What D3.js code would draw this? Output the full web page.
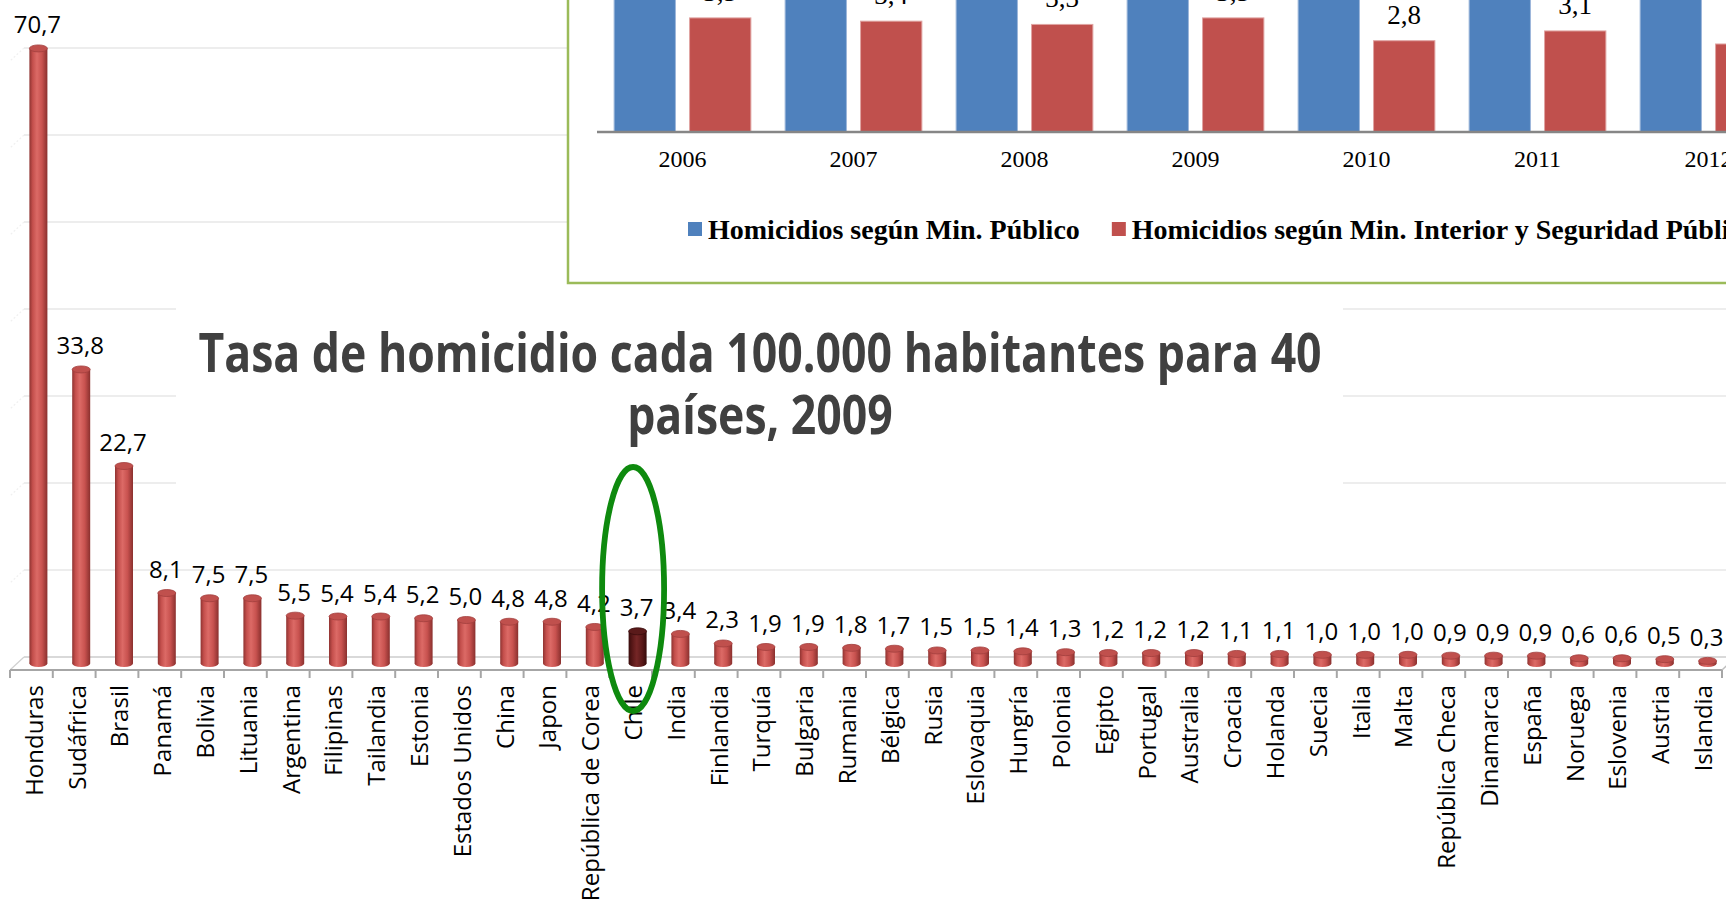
<!DOCTYPE html>
<html><head><meta charset="utf-8">
<script src="https://cdn.jsdelivr.net/npm/d3@7"></script>
<style>body{margin:0;background:#fff;overflow:hidden} svg{display:block}</style>
</head><body><svg id="c" width="1726" height="905"></svg>
<script>
// ---------- data: main chart ----------
const countries = ["Honduras","Sudáfrica","Brasil","Panamá","Bolivia","Lituania","Argentina","Filipinas","Tailandia","Estonia","Estados Unidos","China","Japon","República de Corea","Chile","India","Finlandia","Turquía","Bulgaria","Rumania","Bélgica","Rusia","Eslovaquia","Hungría","Polonia","Egipto","Portugal","Australia","Croacia","Holanda","Suecia","Italia","Malta","República Checa","Dinamarca","España","Noruega","Eslovenia","Austria","Islandia"];
const rates = [70.7,33.8,22.7,8.1,7.5,7.5,5.5,5.4,5.4,5.2,5.0,4.8,4.8,4.2,3.7,3.4,2.3,1.9,1.9,1.8,1.7,1.5,1.5,1.4,1.3,1.2,1.2,1.2,1.1,1.1,1.0,1.0,1.0,0.9,0.9,0.9,0.6,0.6,0.5,0.3];
const highlight = "Chile";
const gridTicks = [0,10,20,30,40,50,60,70];
const titleLines = ["Tasa de homicidio cada 100.000 habitantes para 40","países, 2009"];

// ---------- data: inset chart ----------
const years = ["2006","2007","2008","2009","2010","2011","2012"];
const seriesNames = ["Homicidios según Min. Público","Homicidios según Min. Interior y Seguridad Pública"];
const publico = [5.6,5.8,5.5,5.7,5.6,5.8,5.5];
const interior = [3.5,3.4,3.3,3.5,2.8,3.1,2.7];

const fmt = d3.formatLocale({decimal:",",thousands:".",grouping:[3],currency:["",""]}).format(".1f");
const svg = d3.select("#c");
svg.append("rect").attr("width",1726).attr("height",905).attr("fill","#fff");

const defs = svg.append("defs");
function cyl(id, stops){
  const g = defs.append("linearGradient").attr("id",id).attr("x1","0%").attr("x2","100%").attr("y1","0%").attr("y2","0%");
  stops.forEach(s=>g.append("stop").attr("offset",s[0]).attr("stop-color",s[1]));
}
cyl("cylRed",[["0%","#8f3331"],["18%","#c44f4c"],["42%","#dc6a66"],["70%","#c8524f"],["100%","#8a302e"]]);
cyl("cylDark",[["0%","#3a0c0c"],["25%","#5e1a1a"],["45%","#752626"],["75%","#5a1818"],["100%","#360a0a"]]);

// ---------- main chart scales ----------
const x = d3.scaleBand().domain(countries).range([10, 1722]).padding(0);
const y = d3.scaleLinear().domain([0,70]).range([657,48]);
const depthX = 14, depthY = 13;      // 3D floor depth
const barW = 18;

const grid = svg.append("g");
gridTicks.forEach(t=>{
  const yy = y(t);
  grid.append("line").attr("x1",10+depthX).attr("x2",1726).attr("y1",yy).attr("y2",yy)
    .attr("stroke", t===0 ? "#d9d9d9" : "#ededed").attr("stroke-width",2);
  grid.append("line").attr("x1",10+depthX).attr("y1",yy).attr("x2",10).attr("y2",yy+depthY)
    .attr("stroke", t===0 ? "#d0d0d0" : "#f0f0f0").attr("stroke-width",1.2).attr("stroke-dasharray", t===0 ? null : "2,2");
});
// floor front axis
const axisY = y(0)+depthY;
svg.append("line").attr("x1",10).attr("x2",1722).attr("y1",axisY).attr("y2",axisY)
  .attr("stroke","#a6a6a6").attr("stroke-width",2);
svg.append("line").attr("x1",1722).attr("y1",axisY).attr("x2",1722+depthX).attr("y2",axisY-depthY)
  .attr("stroke","#bfbfbf").attr("stroke-width",1.5);
svg.append("g").selectAll("line").data(countries.concat(["__end"])).join("line")
  .attr("x1",(d,i)=>10+i*x.step()).attr("x2",(d,i)=>10+i*x.step())
  .attr("y1",axisY).attr("y2",axisY+8).attr("stroke","#a6a6a6").attr("stroke-width",2);

// title box (hides gridlines)
svg.append("rect").attr("x",176).attr("y",290).attr("width",1167).attr("height",248).attr("fill","#fff");
const title = svg.append("g").attr("transform","translate(760,0)");
titleLines.forEach((t,i)=>{
  title.append("text").attr("transform",`translate(0,${[372,434][i]}) scale(1,1.22)`)
    .attr("text-anchor","middle").attr("font-family","'Open Sans'").attr("font-weight",700)
    .attr("font-size",44.6).attr("fill","#404040").text(t);
});

// bars
const bars = svg.append("g");
countries.forEach((c,i)=>{
  const v = rates[i];
  const cx = x(c)+x.bandwidth()/2 + depthX/2;
  const base = y(0)+depthY/2, top = y(v)+depthY/2;
  const fill = c===highlight ? "url(#cylDark)" : "url(#cylRed)";
  bars.append("ellipse").attr("cx",cx).attr("cy",base).attr("rx",barW/2).attr("ry",3.5).attr("fill",fill);
  bars.append("rect").attr("x",cx-barW/2).attr("y",top).attr("width",barW).attr("height",base-top).attr("fill",fill);
  bars.append("ellipse").attr("cx",cx).attr("cy",top).attr("rx",barW/2).attr("ry",3.5)
    .attr("fill", c===highlight ? "#5a1a1a" : "#c0504d").attr("stroke", c===highlight ? "#3a0c0c":"#a23f3d").attr("stroke-width",0.8);
  bars.append("text").attr("x",cx-1).attr("y",top-15).attr("text-anchor","middle")
    .attr("font-family","'Open Sans'").attr("font-size",24).attr("fill","#000").text(fmt(v));
});

// category labels
svg.append("g").selectAll("text").data(countries).join("text")
  .attr("transform",d=>`translate(${x(d)+x.bandwidth()/2+3},685) rotate(-90)`)
  .attr("text-anchor","end").attr("dy","0.35em")
  .attr("font-family","'Open Sans'").attr("font-size",24).attr("fill","#000").text(d=>d);

// highlight ellipse
svg.append("ellipse").attr("cx",x(highlight)+x.bandwidth()/2+2.5).attr("cy",589).attr("rx",31).attr("ry",122)
  .attr("fill","none").attr("stroke","#0e8a0e").attr("stroke-width",5.8);

// ---------- inset chart ----------
const inset = svg.append("g");
inset.append("rect").attr("x",568).attr("y",-20).attr("width",1400).attr("height",303)
  .attr("fill","#fff").attr("stroke","#9bbb59").attr("stroke-width",2.5);
const xi = d3.scaleBand().domain(years).range([597, 597+171*years.length]);
const xs = d3.scaleBand().domain(seriesNames).range([0, xi.bandwidth()]).paddingInner(0.187).paddingOuter(0.227);
const yi = d3.scaleLinear().domain([0,4]).range([132, 132-4*32.6]);
const colors = ["#4f81bd","#c0504d"];
const strokes = ["#9db7db","#e0a4a2"];
[publico, interior].forEach((vals,s)=>{
  years.forEach((yr,i)=>{
    const bx = xi(yr)+xs(seriesNames[s]);
    inset.append("rect").attr("x",bx).attr("y",yi(vals[i])).attr("width",xs.bandwidth())
      .attr("height",yi(0)-yi(vals[i])).attr("fill",colors[s]).attr("stroke",strokes[s]).attr("stroke-width",1);
    inset.append("text").attr("x",bx+xs.bandwidth()/2).attr("y",yi(vals[i])-17).attr("text-anchor","middle")
      .attr("font-family","'Liberation Serif'").attr("font-size",27).attr("fill","#000").text(fmt(vals[i]));
  });
});
inset.append("line").attr("x1",597).attr("x2",1800).attr("y1",yi(0)).attr("y2",yi(0))
  .attr("stroke","#868686").attr("stroke-width",2.5);
inset.append("g").selectAll("text").data(years).join("text")
  .attr("x",d=>xi(d)+xi.bandwidth()/2).attr("y",167).attr("text-anchor","middle")
  .attr("font-family","'Liberation Serif'").attr("font-size",24).attr("fill","#000").text(d=>d);
// legend
let lx = 688;
seriesNames.forEach((n,s)=>{
  inset.append("rect").attr("x",lx).attr("y",222).attr("width",14).attr("height",14).attr("fill",colors[s]);
  const t = inset.append("text").attr("x",lx+20).attr("y",239)
    .attr("font-family","'Liberation Serif'").attr("font-weight",700).attr("font-size",28).attr("fill","#000").text(n);
  lx = lx + 20 + t.node().getComputedTextLength() + 32;
});
</script>
</body></html>
